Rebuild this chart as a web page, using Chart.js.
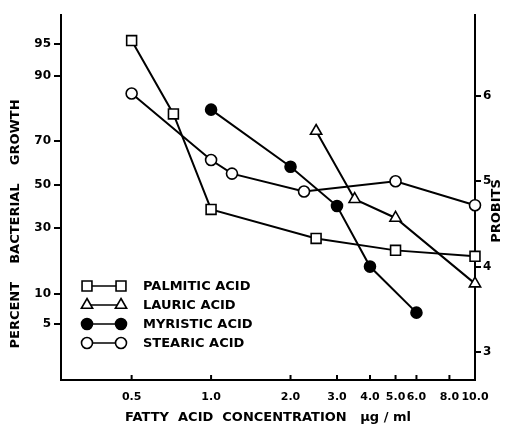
<!DOCTYPE html>
<html>
<head>
<meta charset="utf-8">
<script src="https://cdn.jsdelivr.net/npm/chart.js@4/dist/chart.umd.min.js"></script>
<style>
  html, body { margin: 0; padding: 0; background: #fff; }
  #wrap { width: 511px; height: 425px; position: relative; }
</style>
</head>
<body>
<div id="wrap"><canvas id="chart"></canvas></div>
<script>
// concentration (µg/ml) vs. response (probits)
const palmiticX = [0.5, 0.72, 1.0, 2.5, 5.0, 10.0];
const palmiticY = [6.65, 5.79, 4.67, 4.33, 4.19, 4.12];
const lauricX   = [2.5, 3.5, 5.0, 10.0];
const lauricY   = [5.59, 4.79, 4.57, 3.80];
const myristicX = [1.0, 2.0, 3.0, 4.0, 6.0];
const myristicY = [5.84, 5.17, 4.71, 4.00, 3.46];
const stearicX  = [0.5, 1.0, 1.2, 2.25, 5.0, 10.0];
const stearicY  = [6.03, 5.25, 5.09, 4.88, 5.00, 4.72];

// axis ticks
const xTicks = [0.5, 1, 2, 3, 4, 5, 6, 8, 10];
const probitTicks = [3, 4, 5, 6];
const percentTicks = ['5', '10', '30', '50', '70', '90', '95'];
const percentTickProbits = [3.33, 3.68, 4.45, 4.96, 5.47, 6.24, 6.61];

const FONT = "'DejaVu Sans', 'Liberation Sans', sans-serif";
const INK = '#000';

function series(label, xs, ys, style, radius, fill) {
  return {
    label,
    data: xs.map((x, i) => ({ x, y: ys[i] })),
    borderColor: INK,
    borderWidth: 2,
    tension: 0,
    clip: false,
    pointStyle: style,
    pointRadius: radius,
    pointHoverRadius: radius,
    pointBackgroundColor: fill,
    pointBorderColor: INK,
    pointBorderWidth: 1.6
  };
}

// Plugin: inward x ticks, paired-marker legend and the two rotated y titles
const decorations = {
  id: 'decorations',
  afterDraw(chart) {
    const { ctx, chartArea } = chart;
    const xs = chart.scales.x;
    ctx.save();
    ctx.strokeStyle = INK;
    ctx.lineWidth = 2;
    xTicks.forEach(v => {
      const px = xs.getPixelForValue(v);
      ctx.beginPath();
      ctx.moveTo(px, chartArea.bottom);
      ctx.lineTo(px, chartArea.bottom - 5);
      ctx.stroke();
    });

    // legend
    const x1 = 87, x2 = 121, tx = 143;
    ctx.font = 'bold 13px ' + FONT;
    ctx.textBaseline = 'middle';
    ctx.textAlign = 'left';
    chart.data.datasets.forEach((ds, i) => {
      const y = 286 + i * 19;
      ctx.strokeStyle = INK;
      ctx.lineWidth = 1.6;
      ctx.beginPath();
      ctx.moveTo(x1, y);
      ctx.lineTo(x2, y);
      ctx.stroke();
      [x1, x2].forEach(px => {
        ctx.fillStyle = ds.pointBackgroundColor;
        ctx.lineWidth = ds.pointBorderWidth;
        Chart.helpers.drawPoint(ctx, {
          pointStyle: ds.pointStyle, radius: ds.pointRadius,
          borderWidth: ds.pointBorderWidth, rotation: 0
        }, px, y);
      });
      ctx.fillStyle = INK;
      ctx.fillText(ds.label, tx, y + 1);
    });

    // rotated y titles
    ctx.textAlign = 'center';
    [['PERCENT    BACTERIAL    GROWTH', 16, 224], ['PROBITS', 497, 211]].forEach(([t, x, y]) => {
      ctx.save();
      ctx.translate(x, y);
      ctx.rotate(-Math.PI / 2);
      ctx.fillText(t, 0, 0);
      ctx.restore();
    });
    ctx.restore();
  }
};

const yMin = 2.67, yMax = 6.95;

new Chart(document.getElementById('chart'), {
  type: 'line',
  data: {
    datasets: [
      series('PALMITIC ACID', palmiticX, palmiticY, 'rect', 7, '#fff'),
      series('LAURIC ACID', lauricX, lauricY, 'triangle', 6.5, '#fff'),
      series('MYRISTIC ACID', myristicX, myristicY, 'circle', 5.5, INK),
      series('STEARIC ACID', stearicX, stearicY, 'circle', 5.5, '#fff')
    ]
  },
  options: {
    responsive: true, maintainAspectRatio: false,
    animation: false,
    layout: { padding: { top: 15, left: 0, right: 0, bottom: 0 } },
    plugins: { legend: { display: false }, tooltip: { enabled: false } },
    scales: {
      x: {
        type: 'logarithmic', min: 0.27, max: 10,
        afterBuildTicks: s => { s.ticks = xTicks.map(v => ({ value: v })); },
        afterFit: s => { s.height = 45; },
        border: { color: INK, width: 2 },
        grid: { drawOnChartArea: false, drawTicks: false },
        ticks: {
          autoSkip: false, maxRotation: 0, minRotation: 0, padding: 11,
          color: INK, font: { family: FONT, size: 11, weight: 'bold' },
          callback: v => Number(v).toFixed(1)
        },
        title: {
          display: true, text: 'FATTY  ACID  CONCENTRATION   µg / ml',
          color: INK, font: { family: FONT, size: 13, weight: 'bold' },
          padding: { top: 0, bottom: 0 }
        }
      },
      y: {
        position: 'left', min: yMin, max: yMax,
        afterBuildTicks: s => { s.ticks = percentTickProbits.map(v => ({ value: v })); },
        afterFit: s => { s.width = 61; },
        border: { color: INK, width: 2 },
        grid: { drawOnChartArea: false, tickLength: 7, color: INK, lineWidth: 2 },
        ticks: {
          autoSkip: false, padding: 3, color: INK,
          font: { family: FONT, size: 12, weight: 'bold' },
          callback: (v, i) => percentTicks[i]
        }
      },
      y2: {
        position: 'right', min: yMin, max: yMax,
        afterBuildTicks: s => { s.ticks = probitTicks.map(v => ({ value: v })); },
        afterFit: s => { s.width = 36; },
        border: { color: INK, width: 2 },
        grid: { drawOnChartArea: false, tickLength: 6, color: INK, lineWidth: 2 },
        ticks: {
          autoSkip: false, padding: 2, color: INK,
          font: { family: FONT, size: 12, weight: 'bold' },
          callback: v => String(v)
        }
      }
    }
  },
  plugins: [decorations]
});
</script>
</body>
</html>
